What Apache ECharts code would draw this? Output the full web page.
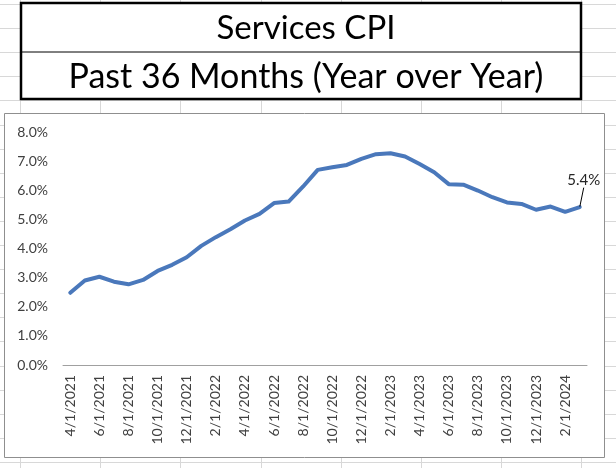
<!DOCTYPE html>
<html>
<head>
<meta charset="utf-8">
<script src="https://cdn.jsdelivr.net/npm/echarts@6/dist/echarts.min.js"></script>
<style>
  html, body { margin: 0; padding: 0; }
  #wrap {
    width: 616px; height: 468px; position: relative; background-color: #fff;
    background-image:
      repeating-linear-gradient(to bottom, #d8d8d8 0, #d8d8d8 1px, transparent 1px, transparent 24.1px),
      repeating-linear-gradient(to right, #d8d8d8 0, #d8d8d8 1px, transparent 1px, transparent 80.2px);
    background-position: 0 4px, 20px 0;
  }
  #chart { width: 616px; height: 468px; }
</style>
</head>
<body>
<div id="wrap"><div id="chart"></div></div>
<script>
// months, Apr 2021 .. Mar 2024
const months = [
  '4/1/2021', '5/1/2021', '6/1/2021', '7/1/2021', '8/1/2021', '9/1/2021',
  '10/1/2021', '11/1/2021', '12/1/2021', '1/1/2022', '2/1/2022', '3/1/2022',
  '4/1/2022', '5/1/2022', '6/1/2022', '7/1/2022', '8/1/2022', '9/1/2022',
  '10/1/2022', '11/1/2022', '12/1/2022', '1/1/2023', '2/1/2023', '3/1/2023',
  '4/1/2023', '5/1/2023', '6/1/2023', '7/1/2023', '8/1/2023', '9/1/2023',
  '10/1/2023', '11/1/2023', '12/1/2023', '1/1/2024', '2/1/2024', '3/1/2024'
]
// services CPI, year over year, %
const servicesYoY = [
  2.48, 2.90, 3.03, 2.86, 2.77, 2.92, 3.23, 3.44, 3.70, 4.09, 4.39, 4.66,
  4.96, 5.19, 5.56, 5.61, 6.13, 6.70, 6.79, 6.87, 7.08, 7.24, 7.27, 7.16,
  6.90, 6.62, 6.21, 6.19, 5.99, 5.76, 5.58, 5.53, 5.33, 5.44, 5.26, 5.42
]
const yTicks = { min: 0, max: 8, step: 1 }

const font = 'Lato, "Open Sans", sans-serif'
const lineColor = '#4a78bb'
const chart = echarts.init(document.getElementById('chart'), null, { renderer: 'canvas' })

const lastIdx = servicesYoY.length - 1
const lineData = servicesYoY.map((v, i) => {
  if (i !== lastIdx) return v
  // only the latest month gets a data label
  return {
    value: v,
    label: {
      show: true,
      position: 'top',
      formatter: p => p.value.toFixed(1) + '%',
      fontFamily: font,
      fontSize: 15,
      color: '#262626'
    },
    labelLine: { show: true, lineStyle: { color: '#000', width: 1 } }
  }
})

chart.setOption({
  animation: false,
  title: [
    {
      text: 'Services CPI',
      left: 301, top: 7, textAlign: 'center',
      textStyle: { fontFamily: font, fontSize: 33, fontWeight: 'normal', color: '#000' }
    },
    {
      text: 'Past 36 Months (Year over Year)',
      left: 301, top: 55, textAlign: 'center',
      textStyle: { fontFamily: font, fontSize: 34, fontWeight: 'normal', color: '#000' }
    }
  ],
  graphic: [
    // title box
    { type: 'rect', z: -10, shape: { x: 21, y: 3, width: 560, height: 96 },
      style: { fill: '#fff', stroke: '#000', lineWidth: 2.5 } },
    { type: 'line', z: -9, shape: { x1: 21, y1: 52, x2: 581, y2: 52 },
      style: { stroke: '#000', lineWidth: 1 } },
    // chart area
    { type: 'rect', z: -10, shape: { x: 4.5, y: 113.5, width: 600, height: 344 },
      style: { fill: '#fff', stroke: '#8f8f8f', lineWidth: 1 } }
  ],
  grid: { left: 63, right: 29, top: 132, bottom: 103, containLabel: false },
  xAxis: {
    type: 'category',
    data: months,
    boundaryGap: true,
    axisLine: { lineStyle: { color: '#a0a0a0', width: 1 } },
    axisTick: { show: false },
    axisLabel: {
      interval: 1,
      rotate: 90,
      margin: 10,
      fontFamily: font,
      fontSize: 14,
      color: '#404040'
    }
  },
  yAxis: {
    type: 'value',
    min: yTicks.min,
    max: yTicks.max,
    interval: yTicks.step,
    axisLine: { show: false },
    axisTick: { show: false },
    splitLine: { show: false },
    axisLabel: {
      margin: 15,
      formatter: v => v.toFixed(1) + '%',
      fontFamily: font,
      fontSize: 14,
      color: '#404040'
    }
  },
  series: [{
    type: 'line',
    data: lineData,
    symbol: 'circle',
    symbolSize: 1,
    showSymbol: true,
    itemStyle: { color: lineColor },
    lineStyle: { color: lineColor, width: 4, cap: 'round', join: 'round' },
    labelLayout: { dx: 4, dy: -14 }
  }]
})
</script>
</body>
</html>
